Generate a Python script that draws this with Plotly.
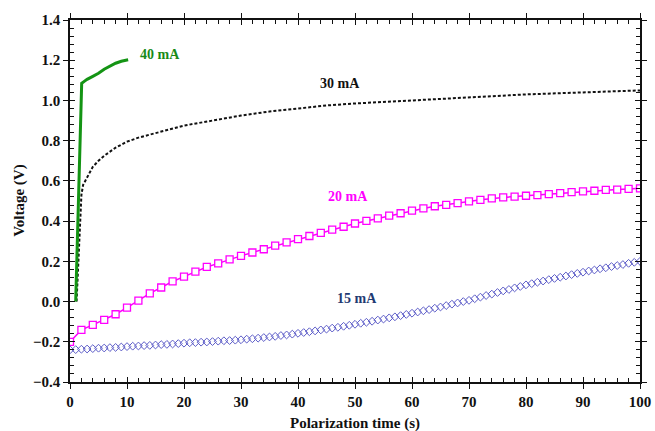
import plotly.graph_objects as go

# Polarization curves: voltage vs time at four applied currents
t_40 = [1.0, 1.3, 1.55, 1.85, 2.0, 2.05, 2.5, 3.0, 4.0, 5.0, 6.0, 7.0, 8.0, 9.0, 10.0, 10.2]
v_40 = [0.0, 0.3, 0.55, 0.8, 1.0, 1.085, 1.095, 1.105, 1.12, 1.135, 1.155, 1.17, 1.185, 1.195, 1.2, 1.202]

t_30 = [1.15, 1.4, 1.6, 1.8, 2.0, 2.3, 3, 4, 5, 6, 8, 10, 12, 14, 17, 20, 25, 30, 35,
        40, 45, 50, 60, 70, 80, 90, 100]
v_30 = [0.0, 0.15, 0.3, 0.42, 0.53, 0.58, 0.62, 0.67, 0.70, 0.725, 0.765, 0.795, 0.815,
        0.83, 0.855, 0.875, 0.9, 0.925, 0.945, 0.96, 0.975, 0.985, 1.0, 1.015, 1.03,
        1.04, 1.05]

t_20 = list(range(0, 101, 2))
v_20 = [-0.20, -0.141, -0.116, -0.091, -0.063, -0.03, 0.005, 0.041, 0.07, 0.10, 0.124,
        0.149, 0.172, 0.19, 0.21, 0.227, 0.244, 0.26, 0.278, 0.294, 0.31, 0.326, 0.342,
        0.358, 0.372, 0.388, 0.401, 0.414, 0.427, 0.439, 0.452, 0.463, 0.474, 0.481,
        0.489, 0.498, 0.506, 0.513, 0.518, 0.522, 0.526, 0.529, 0.534, 0.539, 0.544,
        0.548, 0.551, 0.555, 0.557, 0.56, 0.563]

t_15 = list(range(0, 101))
v_15 = [-0.240, -0.239, -0.237, -0.236, -0.234, -0.232, -0.231, -0.229, -0.228, -0.226, -0.224,
        -0.222, -0.221, -0.219, -0.218, -0.216, -0.214, -0.213, -0.211, -0.209, -0.207,
        -0.205, -0.204, -0.202, -0.201, -0.199, -0.197, -0.195, -0.194, -0.192, -0.190,
        -0.187, -0.185, -0.182, -0.179, -0.176, -0.173, -0.169, -0.166, -0.162, -0.158,
        -0.154, -0.150, -0.146, -0.141, -0.137, -0.132, -0.128, -0.123, -0.118, -0.113,
        -0.108, -0.103, -0.098, -0.092, -0.087, -0.081, -0.076, -0.070, -0.064, -0.058,
        -0.052, -0.046, -0.040, -0.033, -0.027, -0.020, -0.013, -0.007, 0.000, 0.006,
        0.014, 0.022, 0.030, 0.037, 0.045, 0.053, 0.060, 0.068, 0.075, 0.083,
        0.089, 0.096, 0.102, 0.109, 0.115, 0.121, 0.127, 0.134, 0.140, 0.146,
        0.152, 0.157, 0.163, 0.168, 0.174, 0.179, 0.184, 0.190, 0.195, 0.200]

labels = ["40 mA", "30 mA", "20 mA", "15 mA"]
label_t = [15.8, 47.4, 48.8, 50.4]
label_v = [1.229, 1.085, 0.523, 0.015]
label_colors = ["#178a17", "#111111", "#ff00ff", "#1f3b73"]

SERIF = "Times New Roman, Liberation Serif, serif"
X_RANGE = [0, 100]
Y_RANGE = [-0.4, 1.4]

fig = go.Figure()

fig.add_trace(go.Scatter(
    x=t_15, y=v_15, mode="markers",
    marker=dict(symbol="diamond-open", size=6, color="#5c5cc8", line=dict(width=1)),
    showlegend=False))
fig.add_trace(go.Scatter(
    x=t_20, y=v_20, mode="lines+markers",
    line=dict(color="#ff00ff", width=1.5),
    marker=dict(symbol="square", size=7, color="white",
                line=dict(color="#ff00ff", width=1.3)),
    showlegend=False))
fig.add_trace(go.Scatter(
    x=t_30, y=v_30, mode="lines",
    line=dict(color="#111111", width=2, dash="3px,2px"),
    showlegend=False))
fig.add_trace(go.Scatter(
    x=t_40, y=v_40, mode="lines",
    line=dict(color="#149414", width=3),
    showlegend=False))

# invisible trace anchoring the overlay axes that carry the inward ticks
fig.add_trace(go.Scatter(x=[None], y=[None], xaxis="x2", yaxis="y2",
                         showlegend=False, hoverinfo="skip"))

for txt, tx, ty, col in zip(labels, label_t, label_v, label_colors):
    fig.add_annotation(x=tx, y=ty, xref="x", yref="y", text=txt, showarrow=False,
                       font=dict(family=SERIF, size=14, color=col, weight="bold"))

tickfont = dict(family=SERIF, size=15, color="#111111", weight="bold")
titlefont = dict(family=SERIF, size=15, color="#111111", weight="bold")

# axis titles placed in paper coordinates
fig.add_annotation(x=0.5, y=-0.085, xref="paper", yref="paper", yanchor="top",
                   text="Polarization time (s)", showarrow=False, font=titlefont)
fig.add_annotation(x=-0.09, y=0.5, xref="paper", yref="paper", xanchor="center",
                   text="Voltage (V)", textangle=-90, showarrow=False, font=titlefont)

fig.update_layout(
    width=655, height=431,
    margin=dict(l=70, r=15, t=20, b=49),
    paper_bgcolor="white", plot_bgcolor="white",
    xaxis=dict(range=X_RANGE, dtick=10, tick0=0, showgrid=False, zeroline=False,
               automargin=False,
               showline=True, linecolor="#111111", linewidth=1.5, mirror="ticks",
               ticks="outside", ticklen=5, tickwidth=1.3, tickcolor="#111111",
               tickfont=tickfont),
    yaxis=dict(range=Y_RANGE, dtick=0.2, tick0=-0.4, tickformat=".1f", showgrid=False,
               automargin=False,
               zeroline=False, showline=True, linecolor="#111111", linewidth=1.5,
               mirror="ticks", ticks="outside", ticklen=5, tickwidth=1.3,
               tickcolor="#111111", tickfont=tickfont),
    xaxis2=dict(range=X_RANGE, overlaying="x", dtick=10, tick0=0, showgrid=False,
                automargin=False,
                zeroline=False, showticklabels=False, mirror="ticks",
                ticks="inside", ticklen=5, tickwidth=1.3, tickcolor="#111111",
                minor=dict(dtick=2, ticks="inside", ticklen=4, tickwidth=1,
                           tickcolor="#111111", showgrid=False)),
    yaxis2=dict(range=Y_RANGE, overlaying="y", dtick=0.2, tick0=-0.4, showgrid=False,
                automargin=False,
                zeroline=False, showticklabels=False, mirror="ticks",
                ticks="inside", ticklen=5, tickwidth=1.3, tickcolor="#111111",
                minor=dict(dtick=0.04, tick0=-0.4, ticks="inside", ticklen=4,
                           tickwidth=1, tickcolor="#111111", showgrid=False)),
)

fig.write_html("out.html")
